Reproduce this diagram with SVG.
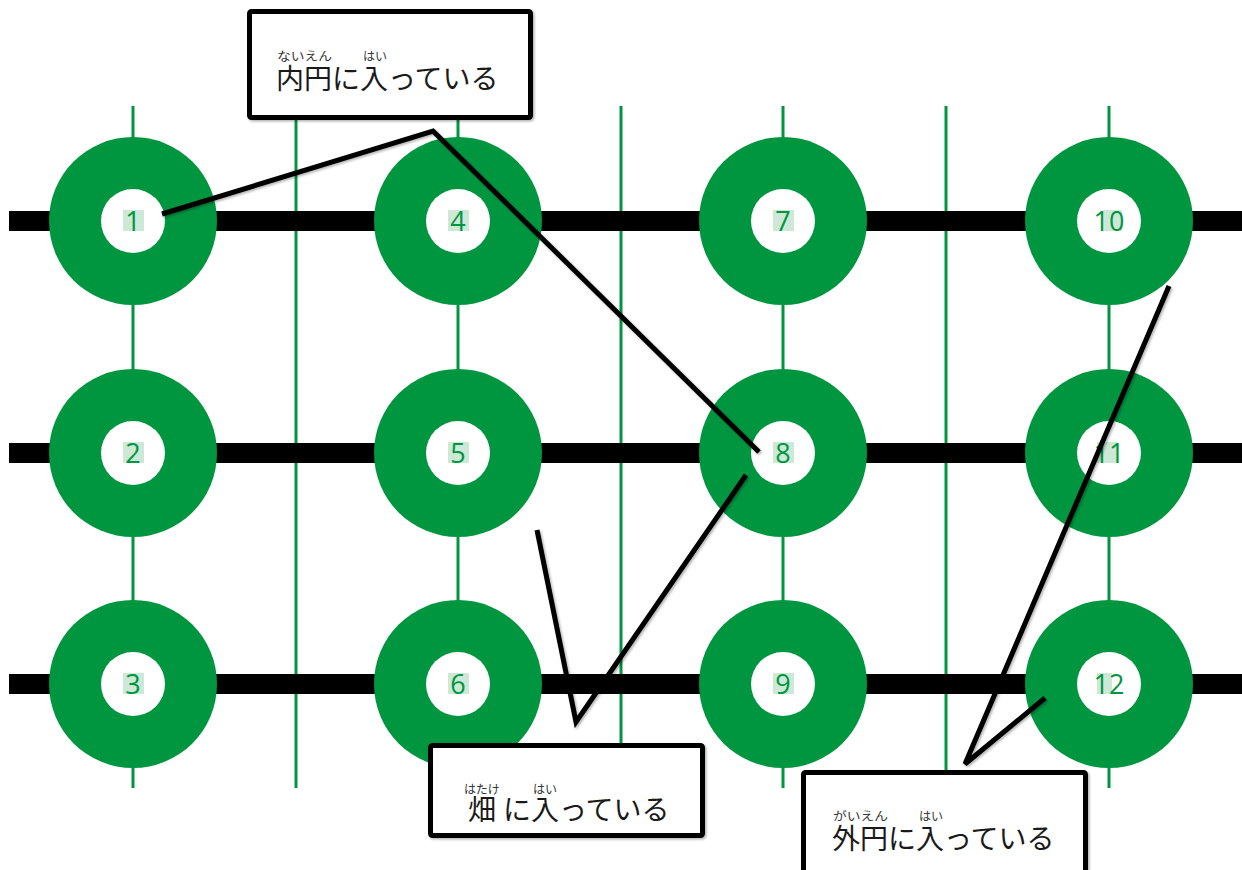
<svg xmlns="http://www.w3.org/2000/svg" width="1242" height="870" viewBox="0 0 1242 870">
<style>
.vline{stroke:#009640;stroke-width:3}
.hline{stroke:#000;stroke-width:20}
.outer{fill:#009640}
.inner{fill:#fff}
.hl{fill:#cde8d6}
.num{font-family:"Open Sans","Liberation Sans",sans-serif;font-size:27px;fill:#009640;text-anchor:middle}
.box{fill:#fff;stroke:#000;stroke-width:5}
.main{font-family:"Noto Sans CJK JP","Noto Sans",sans-serif;font-size:28px;fill:#1a1a1a}
.ruby{font-family:"Noto Sans CJK JP","Noto Sans",sans-serif;font-size:12px;fill:#333}
.call{fill:none;stroke:#000;stroke-width:5;stroke-linecap:butt;stroke-linejoin:miter}
</style>
<defs>
<filter id="sh" x="-10%" y="-10%" width="120%" height="120%">
<feDropShadow dx="1.5" dy="1.5" stdDeviation="1" flood-color="#000" flood-opacity="0.3"/>
</filter>
</defs>
<rect width="1242" height="870" fill="#fff"/>
<g id="grid">
<line class="vline" x1="133" y1="106" x2="133" y2="788"/>
<line class="vline" x1="296" y1="106" x2="296" y2="788"/>
<line class="vline" x1="458" y1="106" x2="458" y2="788"/>
<line class="vline" x1="621" y1="106" x2="621" y2="788"/>
<line class="vline" x1="783" y1="106" x2="783" y2="788"/>
<line class="vline" x1="946" y1="106" x2="946" y2="788"/>
<line class="vline" x1="1109" y1="106" x2="1109" y2="788"/>
<line class="hline" x1="9" y1="221" x2="1242" y2="221"/>
<line class="hline" x1="9" y1="453" x2="1242" y2="453"/>
<line class="hline" x1="9" y1="684" x2="1242" y2="684"/>
</g>
<g id="n1"><circle class="outer" cx="133" cy="221" r="84"/><circle class="inner" cx="133" cy="221" r="32"/><rect class="hl" x="123" y="210" width="21" height="21"/><text class="num" x="133" y="231">1</text></g>
<g id="n2"><circle class="outer" cx="133" cy="453" r="84"/><circle class="inner" cx="133" cy="453" r="32"/><rect class="hl" x="123" y="442" width="21" height="21"/><text class="num" x="133" y="463">2</text></g>
<g id="n3"><circle class="outer" cx="133" cy="684" r="84"/><circle class="inner" cx="133" cy="684" r="32"/><rect class="hl" x="123" y="673" width="21" height="21"/><text class="num" x="133" y="694">3</text></g>
<g id="n4"><circle class="outer" cx="458" cy="221" r="84"/><circle class="inner" cx="458" cy="221" r="32"/><rect class="hl" x="448" y="210" width="21" height="21"/><text class="num" x="458" y="231">4</text></g>
<g id="n5"><circle class="outer" cx="458" cy="453" r="84"/><circle class="inner" cx="458" cy="453" r="32"/><rect class="hl" x="448" y="442" width="21" height="21"/><text class="num" x="458" y="463">5</text></g>
<g id="n6"><circle class="outer" cx="458" cy="684" r="84"/><circle class="inner" cx="458" cy="684" r="32"/><rect class="hl" x="448" y="673" width="21" height="21"/><text class="num" x="458" y="694">6</text></g>
<g id="n7"><circle class="outer" cx="783" cy="221" r="84"/><circle class="inner" cx="783" cy="221" r="32"/><rect class="hl" x="773" y="210" width="21" height="21"/><text class="num" x="783" y="231">7</text></g>
<g id="n8"><circle class="outer" cx="783" cy="453" r="84"/><circle class="inner" cx="783" cy="453" r="32"/><rect class="hl" x="773" y="442" width="21" height="21"/><text class="num" x="783" y="463">8</text></g>
<g id="n9"><circle class="outer" cx="783" cy="684" r="84"/><circle class="inner" cx="783" cy="684" r="32"/><rect class="hl" x="773" y="673" width="21" height="21"/><text class="num" x="783" y="694">9</text></g>
<g id="n10"><circle class="outer" cx="1109" cy="221" r="84"/><circle class="inner" cx="1109" cy="221" r="32"/><rect class="hl" x="1103" y="210" width="19" height="21"/><text class="num" x="1109" y="231">10</text></g>
<g id="n11"><circle class="outer" cx="1109" cy="453" r="84"/><circle class="inner" cx="1109" cy="453" r="32"/><rect class="hl" x="1097" y="442" width="20" height="21"/><text class="num" x="1109" y="463">11</text></g>
<g id="n12"><circle class="outer" cx="1109" cy="684" r="84"/><circle class="inner" cx="1109" cy="684" r="32"/><rect class="hl" x="1097" y="673" width="15" height="21"/><text class="num" x="1109" y="694">12</text></g>
<g id="label-inner">
<rect class="box" x="249.5" y="11.5" width="281" height="106" rx="2" filter="url(#sh)"/>
<text class="ruby" x="277" y="61" textLength="55" lengthAdjust="spacingAndGlyphs">ないえん</text>
<text class="ruby" x="375" y="61" text-anchor="middle">はい</text>
<text class="main" x="276" y="89">内円に入っている</text>
</g>
<g id="label-field">
<rect class="box" x="430.5" y="745.5" width="272" height="90" rx="2" filter="url(#sh)"/>
<text class="ruby" x="482" y="794" text-anchor="middle">はたけ</text>
<text class="ruby" x="545" y="794" text-anchor="middle">はい</text>
<text class="main" x="482" y="820" text-anchor="middle">畑</text>
<text class="main" x="503" y="820">に入っている</text>
</g>
<g id="label-outer">
<rect class="box" x="803.5" y="772.5" width="282" height="120" rx="2" filter="url(#sh)"/>
<text class="ruby" x="833" y="821" textLength="55" lengthAdjust="spacingAndGlyphs">がいえん</text>
<text class="ruby" x="931" y="821" text-anchor="middle">はい</text>
<text class="main" x="832" y="849">外円に入っている</text>
</g>
<g id="connectors" filter="url(#sh)">
<polyline class="call" points="162,214 433,131 759,452"/>
<polyline class="call" points="537,530 576,722 746,475"/>
<polyline class="call" points="1169,286 965,764 1045,698"/>
</g>
</svg>
